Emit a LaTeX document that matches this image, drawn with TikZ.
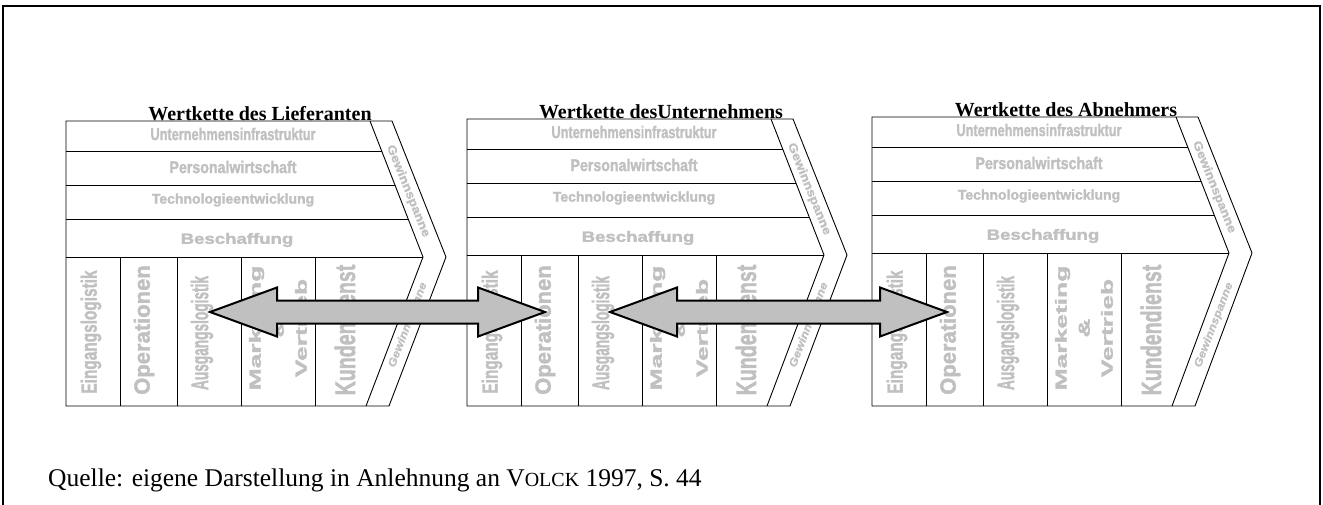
\documentclass[tikz,border=0pt]{standalone}
\usepackage{fontspec}
\setmainfont{Liberation Serif}
\setsansfont{Liberation Sans}
\newfontfamily\gfont{Liberation Sans Bold}[FakeBold=1.8]
\newfontfamily\gfontit{Liberation Sans Bold Italic}[FakeBold=1.2]
\usepackage{graphicx}
\definecolor{lgray}{RGB}{192,192,192}
\newcommand\fsz[1]{\fontsize{#1}{#1}\selectfont}
\tikzset{
  chainline/.style={line width=0.9pt, line join=miter},
  gtext/.style={text=lgray, font=\gfont, inner sep=0pt},
  wktitle/.style={font=\bfseries\fsz{20}, anchor=base, inner sep=0pt},
  bigarrow/.style={fill=lgray, draw=black, line width=2pt, line join=miter},
  frame/.style={line width=2.2pt},
}
\newcommand\wkchain[4]{%
\begin{scope}[shift={(#1,0)}]
  \draw[chainline] (0,#2) -- (326,#2) -- (380,#2+136) -- (323,406) -- (0,406) -- cycle;
  \draw[chainline] (304,#2) -- (357,#2+136) -- (300,406);
  \draw[chainline] (0,#2+30) -- (315.7,#2+30);
  \draw[chainline] (0,#2+64) -- (328.9,#2+64);
  \draw[chainline] (0,#2+98) -- (342.2,#2+98);
  \draw[chainline] (0,#2+136) -- (357,#2+136);
  \foreach \dx in {54,111,175,249} \draw[chainline] (\dx,#2+136) -- (\dx,406);
  \node[wktitle] (#4title) at (194,#2-1) {#3};
  \node[gtext] (#4uinf) at (167,#2+13) {\fsz{17}\scalebox{0.75}[1]{Unternehmensinfrastruktur}};
  \node[gtext] (#4pers) at (167,#2+46) {\fsz{17}\scalebox{0.835}[1]{Personalwirtschaft}};
  \node[gtext] (#4tech) at (167,#2+79) {\fsz{14}Technologieentwicklung};
  \node[gtext] (#4besch) at (171,#2+119) {\fsz{15}\scalebox{1.24}[1]{Beschaffung}};
  \node[gtext, rotate=90] (#4ein) at (25,332) {\fsz{22}\scalebox{0.70}[1]{Eingangslogistik}};
  \node[gtext, rotate=90] (#4op) at (78,330) {\fsz{22}Operationen};
  \node[gtext, rotate=90] (#4aus) at (136,333) {\fsz{24}\scalebox{0.57}[1]{Ausgangslogistik}};
  \node[gtext, rotate=90, align=center, font=\gfont\fontsize{16}{23}\selectfont] (#4mv) at (212,328)
     {\scalebox{1.65}[1]{Marketing}\\\scalebox{1.65}[1]{\&}\\\scalebox{1.65}[1]{Vertrieb}};
  \node[gtext, rotate=90] (#4kd) at (279,330) {\fsz{28}\scalebox{0.70}[1]{Kundendienst}};
  \node[gtext, rotate=-68] (#4gw1) at (342,#2+70) {\fsz{12}\scalebox{1.15}[1]{Gewinnspanne}};
  \node[gtext, rotate=69, font=\gfontit] (#4gw2) at (342,325) {\fsz{11}\scalebox{1.15}[1]{Gewinnspanne}};
\end{scope}}

\begin{document}
\begin{tikzpicture}[x=1pt, y=-1pt]
\useasboundingbox (0,0) rectangle (1323,504);
\draw[frame] (3,506) -- (3,6) -- (1320,6) -- (1320,506);

\wkchain{66}{121}{Wertkette des Lieferanten}{c1}
\wkchain{467}{119}{Wertkette desUnternehmens}{c2}
\wkchain{872}{117}{Wertkette des Abnehmers}{c3}

% double block arrows
\coordinate (a1l) at (210,312);
\coordinate (a2l) at (610,312);
\draw[bigarrow] (a1l) -- ++(67,-24.5) -- ++(0,13) -- ++(201,0) -- ++(0,-13) -- ++(67,24.5)
   -- ++(-67,24.5) -- ++(0,-13) -- ++(-201,0) -- ++(0,13) -- cycle;
\draw[bigarrow] (a2l) -- ++(67,-24.5) -- ++(0,13) -- ++(203,0) -- ++(0,-13) -- ++(67,24.5)
   -- ++(-67,24.5) -- ++(0,-13) -- ++(-203,0) -- ++(0,13) -- cycle;

\node[anchor=base west, inner sep=0pt, font=\fsz{25.5}] (quelle) at (48,486)
  {Quelle: eigene Darstellung in Anlehnung an V{\fsz{20}OLCK} 1997, S. 44};
\end{tikzpicture}
\end{document}
